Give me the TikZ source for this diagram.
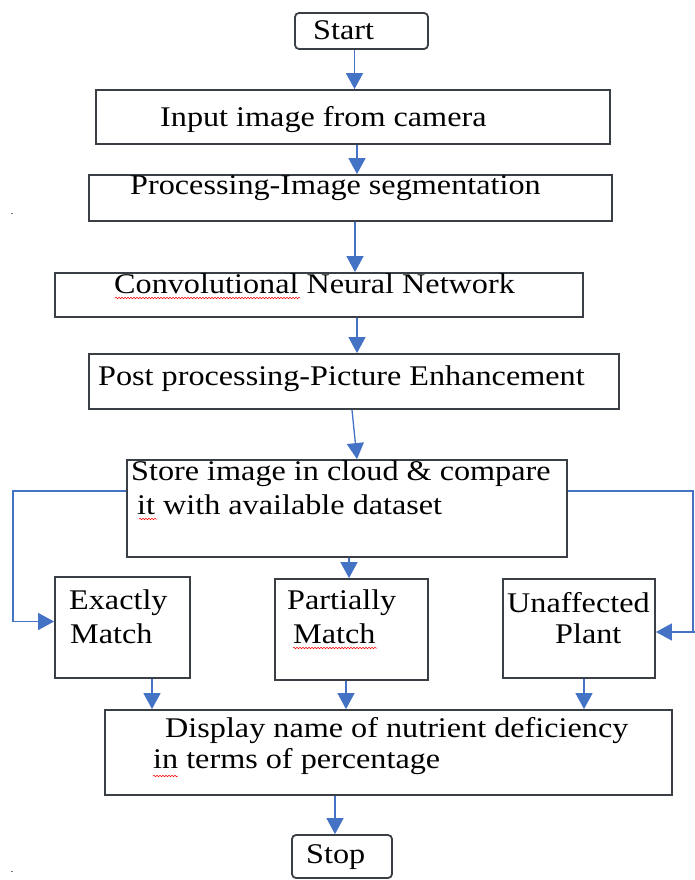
\documentclass[tikz,border=0pt]{standalone}
\usepackage{fontspec}
\setmainfont[FakeStretch=1.13]{Liberation Serif}
\usepackage{tikz}
\usetikzlibrary{arrows.meta}
\usetikzlibrary{positioning}
\usetikzlibrary{decorations.pathmorphing}

\definecolor{arrblue}{HTML}{4472C4}
\definecolor{boxgray}{HTML}{3A3F45}

\tikzset{
  box/.style={draw=boxgray, line width=1.8pt, inner sep=0pt},
  roundbox/.style={box, rounded corners=4pt},
  arr/.style={draw=arrblue, line width=1.3pt, -{Triangle[length=16pt,width=17pt]}},
  wire/.style={draw=arrblue, line width=1.3pt},
  lbl/.style={anchor=west, inner sep=0pt, font=\fontsize{28.5}{32}\selectfont},
  spell/.style={draw=red, line width=0.5pt, decorate, decoration={snake, amplitude=0.8pt, segment length=3pt}}
}

\begin{document}
\begin{tikzpicture}[x=1pt, y=-1pt]

\useasboundingbox[fill=white] (0,0) rectangle (695,880);

% boxes
\node [roundbox, minimum width=133pt, minimum height=36pt] at (361.5,31) (start) {};
\node [box, minimum width=514pt, minimum height=54pt] at (353,117) (input) {};
\node [box, minimum width=523pt, minimum height=46pt] at (350.5,198) (proc) {};
\node [box, minimum width=528pt, minimum height=44pt] at (319,295) (cnn) {};
\node [box, minimum width=530pt, minimum height=55pt] at (354,381.5) (post) {};
\node [box, minimum width=440pt, minimum height=97pt] at (347,508.5) (store) {};
\node [box, minimum width=135pt, minimum height=101pt] at (122.5,627.5) (exact) {};
\node [box, minimum width=153pt, minimum height=101pt] at (351.5,629.5) (partial) {};
\node [box, minimum width=152pt, minimum height=99pt] at (579,628.5) (unaff) {};
\node [box, minimum width=567pt, minimum height=85pt] at (388.5,752.5) (disp) {};
\node [roundbox, minimum width=100pt, minimum height=43pt] at (342,856.5) (stop) {};

% texts
\node [lbl] at (313,30) (tstart) {Start};
\node [lbl] at (160,120) (tinput) {Input image from camera};
\node [lbl] at (130,188) (tproc) {Processing-Image segmentation};
\node [lbl] at (114,284) (tcnn) {Convolutional Neural Network};
\node [lbl] at (98,379) (tpost) {Post processing-Picture Enhancement};
\node [lbl] at (131,474) (tstore1) {Store image in cloud \& compare};
\node [lbl] at (137,505) (tstore2) {it with available dataset};
\node [lbl] at (69,603) (texact1) {Exactly};
\node [lbl] at (70,634) (texact2) {Match};
\node [lbl] at (287,603) (tpart1) {Partially};
\node [lbl] at (293,634) (tpart2) {Match};
\node [lbl] at (507,603) (tunaff1) {Unaffected};
\node [lbl] at (555,634) (tunaff2) {Plant};
\node [lbl] at (165,731) (tdisp1) {Display name of nutrient deficiency};
\node [lbl] at (153,762) (tdisp2) {in terms of percentage};
\node [lbl] at (306,857) (tstop) {Stop};

\node [inner sep=0pt] at (12,214) (dotA) {.};
\node [inner sep=0pt] at (12,872) (dotB) {.};

% spell check marks
\path[spell] (115,298) -- (300,298);
\path[spell] (293,648) -- (377,648);
\path[spell] (139,519) -- (157,519);
\path[spell] (153,776) -- (178,776);

% main flow
\draw[arr] ([xshift=-7pt]start.south) -- ([xshift=-7pt]start.south |- input.north);
\draw[arr] ([xshift=4pt]input.south) -- ([xshift=4pt]input.south |- proc.north);
\draw[arr] ([xshift=4.5pt]proc.south) -- ([xshift=4.5pt]proc.south |- cnn.north);
\draw[arr] ([xshift=38pt]cnn.south) -- ([xshift=38pt]cnn.south |- post.north);
\draw[arr] ([xshift=-2pt]post.south) -- ([xshift=10pt]store.north);
\draw[arr] ([xshift=2pt]store.south) -- ([xshift=2pt]store.south |- partial.north);

% branches
\coordinate (lcorner) at (13,491);
\coordinate (lbend) at (13,621.5);
\coordinate (rcorner) at (693,491);
\coordinate (rbend) at (693,632);
\coordinate (rend) at (695,632);
\draw[wire] (store.west |- lcorner) -- (lcorner) -- (lbend);
\draw[arr] (lbend) -- (lbend -| exact.west);
\draw[wire] (store.east |- rcorner) -- (rcorner) -- (rbend);
\draw[arr] (rend) -- (rend -| unaff.east);

\draw[arr] ([xshift=29.5pt]exact.south) -- ([xshift=29.5pt]exact.south |- disp.north);
\draw[arr] ([xshift=-5.5pt]partial.south) -- ([xshift=-5.5pt]partial.south |- disp.north);
\draw[arr] ([xshift=5pt]unaff.south) -- ([xshift=5pt]unaff.south |- disp.north);
\draw[arr] ([xshift=-53.5pt]disp.south) -- ([xshift=-53.5pt]disp.south |- stop.north);

\end{tikzpicture}
\end{document}
